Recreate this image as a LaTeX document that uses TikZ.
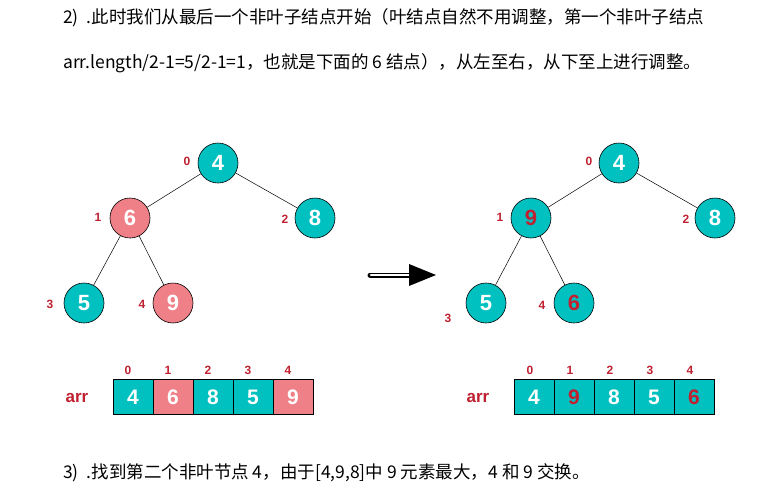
\documentclass[tikz,border=0pt]{standalone}
\usepackage{fontspec}
\setmainfont{Liberation Sans}
\newfontfamily\cjk{Noto Sans CJK SC}
\begin{document}
\begin{tikzpicture}[x=1pt,y=-1pt,
  tnode/.style={circle,draw=black,line width=0.6pt,minimum size=40pt,inner sep=0pt,font=\fontsize{22}{22}\selectfont\bfseries,fill=tealc,text=white},
  pk/.style={fill=pinkc},
  rd/.style={text=redc},
  idx/.style={font=\fontsize{12}{12}\selectfont\bfseries,text=redc},
  cell/.style={draw=black,line width=0.6pt,minimum width=40pt,minimum height=35pt,inner sep=0pt,fill=tealc,text=white,font=\fontsize{21}{21}\selectfont\bfseries},
  edge/.style={line width=0.5pt},
  txt/.style={font=\cjk\fontsize{17.5}{18}\selectfont,anchor=west,inner sep=0pt}]
\definecolor{tealc}{RGB}{0,192,192}
\definecolor{pinkc}{RGB}{240,128,136}
\definecolor{redc}{RGB}{192,32,48}
\useasboundingbox (0,0) rectangle (763,496);
\node[txt] (t1) at (63,18) {2)\ \ .此时我们从最后一个非叶子结点开始（叶结点自然不用调整，第一个非叶子结点};
\node[txt] (t2) at (63,63) {arr.length/2-1=5/2-1=1，也就是下面的 6 结点），从左至右，从下至上进行调整。};
\node[txt] (t3) at (63,473) {3)\ \ .找到第二个非叶节点 4，由于[4,9,8]中 9 元素最大，4 和 9 交换。};
% left tree
\node[tnode] (a0) at (218,163) {4};
\node[tnode,pk] (a1) at (130,218) {6};
\node[tnode] (a2) at (315,218) {8};
\node[tnode] (a3) at (84,303) {5};
\node[tnode,pk] (a4) at (173,303) {9};
\draw[edge] (a0)--(a1) (a0)--(a2) (a1)--(a3) (a1)--(a4);
\node[idx] (la0) at (187,161) {0};
\node[idx] (la1) at (98,217) {1};
\node[idx] (la2) at (285,219) {2};
\node[idx] (la3) at (50,304) {3};
\node[idx] (la4) at (142,304) {4};
% right tree
\node[tnode] (b0) at (619,163) {4};
\node[tnode,rd] (b1) at (531,218) {9};
\node[tnode] (b2) at (715,218) {8};
\node[tnode] (b3) at (486,303) {5};
\node[tnode,rd] (b4) at (574,303) {6};
\draw[edge] (b0)--(b1) (b0)--(b2) (b1)--(b3) (b1)--(b4);
\node[idx] (lb0) at (589,161) {0};
\node[idx] (lb1) at (500,217) {1};
\node[idx] (lb2) at (686,219) {2};
\node[idx] (lb3) at (448,318) {3};
\node[idx] (lb4) at (542,305) {4};
% arrow
\coordinate (ar0) at (370,275);
\coordinate (ar1) at (436,275);
\draw[line width=5pt,black,line cap=round] (ar0) -- (410,275);
\draw[line width=2.8pt,white,line cap=round] (371,275) -- (410,275);
\fill (409,264) -- (ar1) -- (409,286) -- cycle;
% left array
\node[font=\fontsize{17}{17}\selectfont\bfseries,text=redc] (arrA) at (77,398) {arr};
\foreach \v/\c [count=\i from 0] in {4/tealc,6/pinkc,8/tealc,5/tealc,9/pinkc}{
  \node[cell,fill=\c] (ca\i) at (133+\i*40,397) {\v};
  \node[idx] (ia\i) at (128+\i*40,370) {\i};
}
% right array
\node[font=\fontsize{17}{17}\selectfont\bfseries,text=redc] (arrB) at (478,398) {arr};
\foreach \v/\t [count=\i from 0] in {4/white,9/redc,8/white,5/white,6/redc}{
  \node[cell,text=\t] (cb\i) at (534+\i*40,397) {\v};
  \node[idx] (ib\i) at (530+\i*40,370) {\i};
}
\end{tikzpicture}
\end{document}
